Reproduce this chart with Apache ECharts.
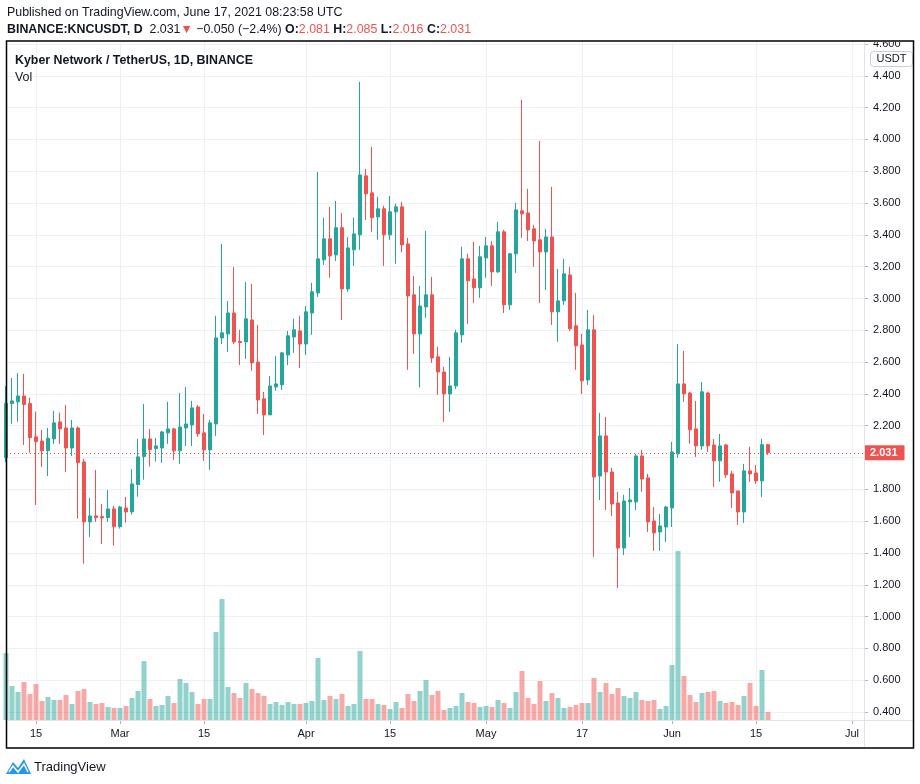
<!DOCTYPE html>
<html>
<head>
<meta charset="utf-8">
<script src="https://cdn.jsdelivr.net/npm/echarts/dist/echarts.min.js"></script>
<style>
  html, body { margin: 0; padding: 0; background: #fff; }
  #main { width: 920px; height: 784px; }
</style>
</head>
<body>
<div id="main"></div>
<script>
// KNC/USDT daily candles, 2021-02-10 .. 2021-06-17
const startDate = "2021-02-10";
const axisDays = 144; // axis runs on to early July

const opens = [
  2.00, 2.339, 2.35, 2.387, 2.339, 2.130, 2.104, 2.043, 2.117, 2.224,
  2.186, 2.060, 2.186, 1.972, 1.595, 1.633, 1.628, 1.622, 1.677, 1.565,
  1.683, 1.658, 1.830, 2.006, 2.117, 2.056, 2.060, 2.155, 2.180, 2.042,
  2.186, 2.205, 2.318, 2.155, 2.048, 2.211, 2.752, 2.777, 2.909, 2.730,
  2.727, 2.865, 2.600, 2.369, 2.268, 2.444, 2.457, 2.645, 2.758, 2.796,
  2.714, 2.909, 3.035, 3.243, 3.375, 3.274, 3.445, 3.060, 3.306, 3.400,
  3.771, 3.664, 3.513, 3.564, 3.400, 3.545, 3.576, 3.343, 3.023, 2.777,
  2.947, 3.023, 2.633, 2.538, 2.400, 2.450, 2.771, 3.249, 3.123, 3.067,
  3.255, 3.331, 3.167, 3.419, 2.960, 3.281, 3.551, 3.538, 3.438, 3.369,
  3.293, 3.387, 2.916, 2.985, 3.148, 2.828, 2.708, 2.488, 2.803, 1.884,
  2.136, 1.909, 1.714, 1.431, 1.721, 1.721, 2.010, 1.872, 1.601, 1.532,
  1.563, 1.683, 2.023, 2.463, 2.406, 2.180, 2.073, 2.406, 2.079, 1.979,
  2.079, 1.897, 1.790, 1.658, 1.916, 1.903, 1.853, 2.081
];
const closes = [
  2.34, 2.356, 2.387, 2.333, 2.125, 2.100, 2.043, 2.121, 2.218, 2.180,
  2.060, 2.186, 1.968, 1.595, 1.633, 1.622, 1.620, 1.677, 1.565, 1.689,
  1.658, 1.834, 2.004, 2.117, 2.050, 2.073, 2.161, 2.180, 2.042, 2.192,
  2.211, 2.312, 2.149, 2.048, 2.218, 2.752, 2.784, 2.909, 2.727, 2.722,
  2.872, 2.595, 2.362, 2.268, 2.450, 2.463, 2.658, 2.765, 2.803, 2.714,
  2.916, 3.042, 3.249, 3.375, 3.268, 3.445, 3.060, 3.318, 3.406, 3.777,
  3.658, 3.508, 3.564, 3.400, 3.545, 3.576, 3.337, 3.016, 2.777, 2.953,
  3.023, 2.626, 2.538, 2.400, 2.450, 2.784, 3.249, 3.111, 3.067, 3.262,
  3.331, 3.167, 3.419, 2.960, 3.281, 3.557, 3.532, 3.431, 3.362, 3.293,
  3.387, 2.916, 2.985, 3.155, 2.809, 2.702, 2.482, 2.803, 1.878, 2.136,
  1.909, 1.708, 1.431, 1.727, 1.733, 2.010, 1.865, 1.595, 1.526, 1.570,
  1.689, 2.035, 2.463, 2.400, 2.174, 2.073, 2.413, 2.073, 1.979, 2.073,
  1.891, 1.777, 1.658, 1.916, 1.897, 1.853, 2.081, 2.031
];
const lows = [
  1.97, 2.213, 2.226, 2.079, 2.031, 1.702, 1.941, 1.884, 2.086, 2.086,
  1.909, 2.009, 1.616, 1.333, 1.501, 1.595, 1.457, 1.595, 1.446, 1.553,
  1.590, 1.641, 1.754, 1.861, 1.943, 1.974, 1.966, 2.086, 1.985, 1.960,
  2.073, 2.073, 2.130, 1.979, 1.922, 2.136, 2.714, 2.664, 2.714, 2.582,
  2.620, 2.545, 2.274, 2.142, 2.268, 2.419, 2.425, 2.582, 2.658, 2.563,
  2.645, 2.771, 3.010, 3.211, 3.130, 3.236, 2.865, 3.042, 3.205, 3.306,
  3.494, 3.419, 3.369, 3.205, 3.369, 3.218, 3.290, 2.551, 2.652, 2.440,
  2.878, 2.595, 2.394, 2.224, 2.287, 2.430, 2.721, 2.840, 2.972, 3.004,
  3.130, 3.079, 3.161, 2.909, 2.928, 3.161, 3.381, 3.362, 3.199, 2.972,
  3.054, 2.834, 2.727, 2.960, 2.796, 2.551, 2.400, 2.457, 1.375, 1.733,
  1.670, 1.633, 1.180, 1.387, 1.501, 1.670, 1.784, 1.532, 1.413, 1.413,
  1.469, 1.563, 1.998, 2.350, 2.086, 2.004, 2.048, 2.035, 1.815, 1.847,
  1.872, 1.683, 1.576, 1.589, 1.847, 1.834, 1.752, 2.016
];
const highs = [
  2.45, 2.500, 2.530, 2.526, 2.377, 2.289, 2.174, 2.186, 2.293, 2.282,
  2.331, 2.236, 2.195, 1.991, 1.746, 1.922, 1.708, 1.796, 1.696, 1.696,
  1.752, 1.928, 2.117, 2.337, 2.180, 2.123, 2.167, 2.350, 2.186, 2.406,
  2.444, 2.356, 2.331, 2.274, 2.236, 2.891, 3.343, 2.985, 3.199, 2.803,
  3.104, 3.092, 2.834, 2.413, 2.513, 2.639, 2.664, 2.796, 2.872, 2.891,
  2.953, 3.098, 3.796, 3.508, 3.576, 3.614, 3.538, 3.387, 3.508, 4.362,
  3.815, 3.953, 3.640, 3.583, 3.645, 3.595, 3.607, 3.381, 3.142, 3.079,
  3.425, 3.136, 2.696, 2.570, 2.633, 2.803, 3.325, 3.281, 3.356, 3.331,
  3.387, 3.362, 3.482, 3.431, 3.287, 3.601, 4.249, 3.689, 3.463, 3.991,
  3.438, 3.702, 3.186, 3.249, 3.199, 3.035, 2.777, 2.928, 2.897, 2.281,
  2.255, 1.935, 1.784, 1.765, 1.809, 2.023, 2.048, 1.897, 1.689, 1.645,
  1.696, 2.098, 2.714, 2.670, 2.413, 2.356, 2.475, 2.413, 2.117, 2.148,
  2.086, 1.916, 1.790, 1.960, 2.067, 1.953, 2.117, 2.085
];
// volume, relative units
const volumes = [
  67, 34, 28, 38, 26, 36, 19, 23, 20, 20, 25, 16, 29, 31, 18, 16, 17, 13, 12, 12,
  14, 22, 29, 59, 21, 14, 15, 24, 17, 41, 37, 28, 16, 21, 21, 88, 121, 33, 27, 22,
  37, 31, 27, 24, 16, 18, 15, 18, 16, 16, 17, 19, 62, 20, 24, 21, 26, 14, 16, 69,
  21, 21, 16, 15, 11, 18, 12, 26, 19, 29, 40, 25, 29, 10, 12, 14, 27, 18, 17, 13,
  14, 13, 20, 17, 12, 28, 49, 22, 16, 39, 19, 27, 22, 12, 13, 15, 17, 17, 42, 28,
  37, 26, 32, 24, 22, 28, 20, 19, 20, 11, 14, 55, 169, 44, 25, 18, 27, 28, 29, 19,
  17, 18, 15, 24, 37, 14, 50, 8
];
const tickDates = [
  "2021-02-15", "2021-03-01", "2021-03-15", "2021-04-01", "2021-04-15",
  "2021-05-01", "2021-05-17", "2021-06-01", "2021-06-15", "2021-07-01"
];
const monthNames = ["Jan", "Feb", "Mar", "Apr", "May", "Jun", "Jul", "Aug", "Sep", "Oct", "Nov", "Dec"];

const upColor = "#26a69a";
const downColor = "#ef5350";
const gridColor = "#eef0f3";
const textColor = "#131722";
const font = "Liberation Sans, Arial, sans-serif";

let dates = [];
let d0 = new Date(startDate + "T00:00:00Z");
for (let i = 0; i < axisDays; i++) {
  let d = new Date(d0.getTime() + i * 86400000);
  dates.push(d.toISOString().slice(0, 10));
}

const candles = opens.map((o, i) => [o, closes[i], lows[i], highs[i]]);
const volBars = volumes.map((v, i) => ({
  value: v,
  itemStyle: {
    color: closes[i] >= opens[i] ? "rgba(38,166,154,0.5)" : "rgba(239,83,80,0.5)",
  },
}));
const lastClose = closes[closes.length - 1];
const lastOpen = opens[opens.length - 1];
const lastHigh = highs[highs.length - 1];
const lastLow = lows[lows.length - 1];
const prevClose = closes[closes.length - 2];
const chg = lastClose - prevClose;

const isTick = (index, value) => tickDates.indexOf(value) >= 0;
const fmt = (v) => v.toFixed(3);

let myChart = echarts.init(document.getElementById("main"), null, { renderer: "canvas" });

let option = {
  animation: false,
  backgroundColor: "#fff",
  textStyle: { fontFamily: font },
  grid: [
    { left: 6, right: 56, top: 44, bottom: 72 }, // price
    { left: 6, right: 56, top: 41, bottom: 64 }, // volume + time axis
  ],
  xAxis: [
    {
      type: "category",
      gridIndex: 0,
      data: dates,
      boundaryGap: false,
      axisLine: { show: false },
      axisTick: { show: false },
      axisLabel: { show: false },
      splitLine: { show: false },
    },
    {
      type: "category",
      gridIndex: 1,
      data: dates,
      boundaryGap: false,
      axisLine: { show: false },
      axisTick: {
        show: true,
        interval: isTick,
        length: 4,
        lineStyle: { color: "#b2b5be" },
      },
      axisLabel: {
        interval: isTick,
        margin: 8,
        fontSize: 11,
        color: textColor,
        fontFamily: font,
        formatter: (value) => {
          let day = parseInt(value.slice(8, 10), 10);
          let month = parseInt(value.slice(5, 7), 10);
          return day === 1 ? monthNames[month - 1] : String(day);
        },
      },
      splitLine: {
        show: true,
        interval: isTick,
        lineStyle: { color: gridColor, width: 1 },
      },
    },
  ],
  yAxis: [
    {
      type: "value",
      gridIndex: 0,
      position: "right",
      min: 0.4,
      max: 4.6,
      interval: 0.2,
      axisLine: { show: false },
      axisTick: { show: true, length: 4, lineStyle: { color: "#b2b5be" } },
      axisLabel: {
        margin: 9,
        fontSize: 11,
        color: textColor,
        fontFamily: font,
        // 2.000 sits under the last-price tag
        formatter: (v) => (Math.abs(v - 2) < 1e-6 ? "" : fmt(v)),
      },
      splitLine: { lineStyle: { color: gridColor, width: 1 } },
    },
    {
      type: "value",
      gridIndex: 1,
      min: 0,
      max: 679,
      show: false,
      splitLine: { show: false },
    },
  ],
  series: [
    {
      name: "Vol",
      type: "bar",
      xAxisIndex: 1,
      yAxisIndex: 1,
      data: volBars,
      barWidth: 5,
      z: 1,
    },
    {
      name: "KNCUSDT",
      type: "candlestick",
      xAxisIndex: 0,
      yAxisIndex: 0,
      data: candles,
      barWidth: 4,
      z: 3,
      itemStyle: {
        color: upColor,
        color0: downColor,
        borderColor: upColor,
        borderColor0: downColor,
        borderWidth: 1,
      },
      markLine: {
        silent: true,
        symbol: ["none", "none"],
        lineStyle: { color: downColor, type: [1, 3], width: 1 },
        label: {
          show: true,
          position: "end",
          distance: 0,
          formatter: () => fmt(lastClose),
          backgroundColor: downColor,
          color: "#fff",
          fontWeight: "bold",
          fontSize: 11,
          fontFamily: font,
          padding: [2, 7, 2, 6],
        },
        data: [{ yAxis: lastClose }],
      },
    },
  ],
  graphic: [
    {
      type: "text",
      x: 7,
      y: 13,
      z: 100,
      style: {
        text: "Published on TradingView.com, June 17, 2021 08:23:58 UTC",
        font: "12.4px " + font,
        fill: textColor,
        verticalAlign: "middle",
      },
    },
    {
      type: "text",
      x: 7,
      y: 30,
      z: 100,
      style: {
        text:
          "{b|BINANCE:KNCUSDT, D}  {n|" + fmt(lastClose) + "}{r|▼}{n| " +
          "−" + Math.abs(chg).toFixed(3) + " (−" + Math.abs((chg / prevClose) * 100).toFixed(1) + "%)} " +
          "{b|O:}{r|" + fmt(lastOpen) + "} {b|H:}{r|" + fmt(lastHigh) + "} " +
          "{b|L:}{r|" + fmt(lastLow) + "} {b|C:}{r|" + fmt(lastClose) + "}",
        verticalAlign: "middle",
        font: "12.4px " + font,
        fill: textColor,
        rich: {
          b: { fontWeight: "bold", fontSize: 12.4, fontFamily: font, fill: textColor },
          n: { fontSize: 12.4, fontFamily: font, fill: textColor },
          r: { fontSize: 12.4, fontFamily: font, fill: downColor },
        },
      },
    },
    {
      type: "text",
      x: 15,
      y: 61,
      z: 100,
      style: {
        text: "Kyber Network / TetherUS, 1D, BINANCE",
        font: "bold 12.4px " + font,
        fill: textColor,
        verticalAlign: "middle",
      },
    },
    {
      type: "text",
      x: 15,
      y: 78,
      z: 100,
      style: {
        text: "Vol",
        font: "12.4px " + font,
        fill: textColor,
        verticalAlign: "middle",
      },
    },
    // hide the top of the 4.600 label like the original
    {
      type: "rect",
      z: 99,
      shape: { x: 864, y: 30, width: 50, height: 12 },
      style: { fill: "#fff" },
    },
    {
      type: "line",
      z: 98,
      shape: { x1: 864.5, y1: 41, x2: 864.5, y2: 748 },
      style: { stroke: "#e0e3eb", lineWidth: 1 },
    },
    {
      type: "line",
      z: 98,
      shape: { x1: 7, y1: 720.5, x2: 913, y2: 720.5 },
      style: { stroke: "#e0e3eb", lineWidth: 1 },
    },
    {
      type: "rect",
      z: 100,
      shape: { x: 870.5, y: 51.5, width: 42, height: 15, r: 3 },
      style: { fill: "#fff", stroke: "#c9ccd4", lineWidth: 1 },
    },
    {
      type: "text",
      z: 101,
      x: 891.5,
      y: 59,
      style: {
        text: "USDT",
        font: "11px " + font,
        fill: textColor,
        align: "center",
        verticalAlign: "middle",
      },
    },
    // outer frame
    {
      type: "rect",
      z: 110,
      shape: { x: 6.5, y: 41, width: 907, height: 707 },
      style: { fill: null, stroke: "#000", lineWidth: 1.5 },
    },
    // TradingView logo
    {
      type: "polygon",
      z: 100,
      shape: { points: [[6, 774], [13, 762], [18, 768], [24, 759], [31, 774]] },
      style: { fill: "#2196f3" },
    },
    {
      type: "polyline",
      z: 101,
      shape: { points: [[9, 772], [13, 766], [18, 772], [24, 764], [28, 772]] },
      style: { stroke: "#fff", lineWidth: 1.5, fill: null },
    },
    {
      type: "text",
      x: 34,
      y: 767,
      z: 100,
      style: {
        text: "TradingView",
        font: "13px " + font,
        fill: textColor,
        verticalAlign: "middle",
      },
    },
  ],
};
myChart.setOption(option);
</script>
</body>
</html>
